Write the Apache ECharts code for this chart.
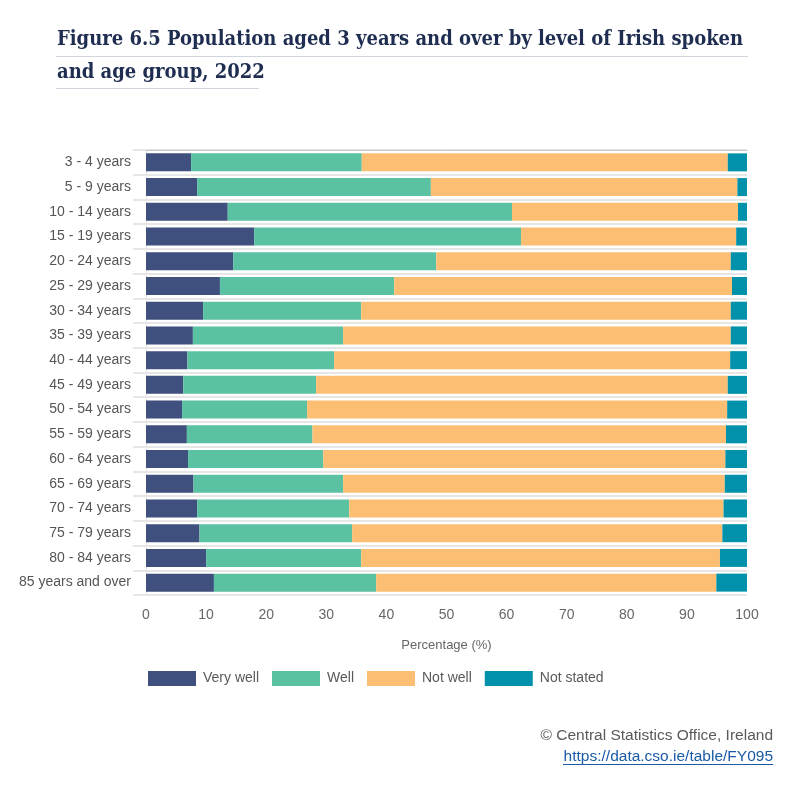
<!DOCTYPE html>
<html>
<head>
<meta charset="utf-8">
<script src="https://cdn.jsdelivr.net/npm/echarts@6/dist/echarts.min.js"></script>
<style>
  html, body { margin: 0; padding: 0; background: #fff; }
  #chart { width: 799px; height: 786px; }
</style>
</head>
<body>
<div id="chart"></div>
<script>
// age groups, top to bottom
const ageGroups = ['3 - 4 years', '5 - 9 years', '10 - 14 years', '15 - 19 years', '20 - 24 years',
  '25 - 29 years', '30 - 34 years', '35 - 39 years', '40 - 44 years', '45 - 49 years',
  '50 - 54 years', '55 - 59 years', '60 - 64 years', '65 - 69 years', '70 - 74 years',
  '75 - 79 years', '80 - 84 years', '85 years and over'];

// percentages
const veryWell  = [7.5, 8.5, 13.6, 18.0, 14.5, 12.3, 9.5, 7.8, 6.9, 6.2, 6.0, 6.8, 7.0, 7.9, 8.5, 8.9, 10.0, 11.3];
const well      = [28.4, 38.9, 47.3, 44.4, 33.8, 29.0, 26.3, 25.0, 24.4, 22.1, 20.8, 20.9, 22.5, 24.9, 25.3, 25.4, 25.8, 27.0];
const notWell   = [60.9, 51.0, 37.6, 35.8, 49.0, 56.2, 61.5, 64.5, 65.9, 68.5, 69.9, 68.8, 66.9, 63.5, 62.3, 61.6, 59.7, 56.6];
const notStated = [3.2, 1.6, 1.5, 1.8, 2.7, 2.5, 2.7, 2.7, 2.8, 3.2, 3.3, 3.5, 3.6, 3.7, 3.9, 4.1, 4.5, 5.1];

const seriesNames = ['Very well', 'Well', 'Not well', 'Not stated'];
const colors = ['#3f4f7e', '#5bc1a3', '#fcbe73', '#0291aa'];

let myChart = echarts.init(document.getElementById('chart'));

function bar(name, data) {
  return {
    name: name,
    type: 'bar',
    stack: 'total',
    barWidth: 18,
    data: data
  };
}

const titleFont = { fontFamily: 'DejaVu Serif Condensed, DejaVu Serif', fontWeight: 'bold', fontSize: 20, color: '#1e2d50' };

let option = {
  animation: false,
  color: colors,
  textStyle: { fontFamily: 'Liberation Sans, Arial, sans-serif' },
  title: [
    {
      text: 'Figure 6.5 Population aged 3 years and over by level of Irish spoken',
      left: 52, top: 25,
      textStyle: titleFont
    },
    {
      text: 'and age group, 2022',
      left: 52, top: 58,
      textStyle: titleFont
    },
    {
      text: '© Central Statistics Office, Ireland',
      right: 21, top: 723,
      textStyle: { fontWeight: 'normal', fontSize: 15.5, color: '#595959' }
    },
    {
      text: 'https://data.cso.ie/table/FY095',
      right: 21, top: 744,
      textStyle: { fontWeight: 'normal', fontSize: 15.5, color: '#1a5aa6' }
    }
  ],
  graphic: [
    { type: 'line', shape: { x1: 56, y1: 56.5, x2: 748, y2: 56.5 }, style: { stroke: '#d0d4dc', lineWidth: 1 } },
    { type: 'line', shape: { x1: 56, y1: 88.5, x2: 259, y2: 88.5 }, style: { stroke: '#d0d4dc', lineWidth: 1 } },
    { type: 'line', shape: { x1: 563, y1: 764.5, x2: 773, y2: 764.5 }, style: { stroke: '#1a5aa6', lineWidth: 1 } }
  ],
  legend: {
    data: seriesNames,
    left: 143,
    top: 666,
    icon: 'rect',
    itemWidth: 48,
    itemHeight: 15,
    itemGap: 13,
    textStyle: { fontSize: 14, color: '#595959', padding: [0, 0, 0, 2] }
  },
  grid: {
    left: 146,
    right: 52,
    top: 150,
    bottom: 191,
    containLabel: false
  },
  xAxis: [
    {
      type: 'value',
      min: 0,
      max: 100,
      interval: 10,
      name: 'Percentage (%)',
      nameLocation: 'middle',
      nameGap: 44,
      nameTextStyle: { fontSize: 13, color: '#666' },
      axisLine: { show: false },
      axisTick: { show: false },
      splitLine: { show: false },
      axisLabel: { fontSize: 14, color: '#666', margin: 13 }
    },
    {
      type: 'value',
      position: 'top',
      min: 0,
      max: 100,
      axisLine: { show: true, lineStyle: { color: '#c8c8c8', width: 1 } },
      axisTick: { show: false },
      axisLabel: { show: false },
      splitLine: { show: false }
    }
  ],
  yAxis: {
    type: 'category',
    inverse: true,
    data: ageGroups,
    axisLine: { show: true, lineStyle: { color: '#e6e6e6' } },
    axisTick: { show: true, length: 13, lineStyle: { color: '#e6e6e6', width: 2 } },
    splitLine: { show: true, lineStyle: { color: '#e6e6e6', width: 2 } },
    axisLabel: { fontSize: 14, color: '#555', margin: 15 }
  },
  series: [
    bar(seriesNames[0], veryWell),
    bar(seriesNames[1], well),
    bar(seriesNames[2], notWell),
    bar(seriesNames[3], notStated)
  ]
};
myChart.setOption(option);
</script>
</body>
</html>
